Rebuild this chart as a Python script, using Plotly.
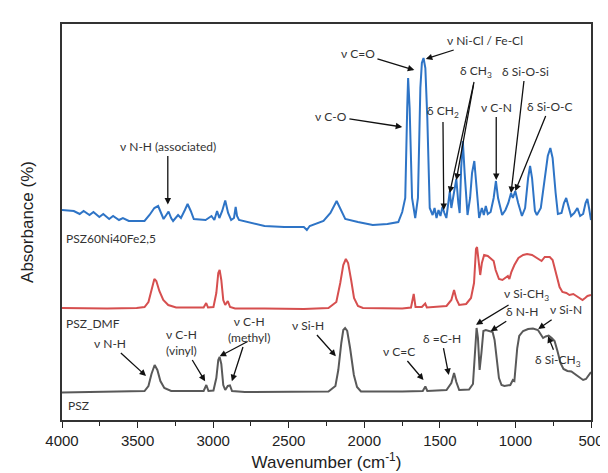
import plotly.graph_objects as go

# ---------------- data (absorbance in arbitrary offset units) ----------------
psz_fe_wn = [4000, 3922, 3883, 3857, 3818, 3792, 3753, 3727, 3688, 3662, 3623, 3597, 3558, 3506, 3454,
             3421, 3389, 3364, 3343, 3328, 3310, 3295, 3278, 3265, 3232, 3213, 3187, 3169, 3148, 3128,
             3050, 3011, 2992, 2974, 2959, 2940, 2920, 2901, 2881, 2862, 2851, 2842, 2829, 2751, 2660,
             2530, 2400, 2380, 2361, 2270, 2224, 2183, 2152, 2126, 2042, 1944, 1847, 1775, 1749, 1729,
             1716, 1710, 1700, 1684, 1663, 1645, 1629, 1619, 1608, 1596, 1583, 1567, 1548, 1535, 1522,
             1509, 1496, 1483, 1470, 1457, 1444, 1434, 1424, 1411, 1391, 1378, 1369, 1359, 1348, 1336,
             1317, 1300, 1287, 1272, 1258, 1240, 1222, 1209, 1196, 1183, 1164, 1144, 1129, 1115, 1088,
             1066, 1047, 1029, 1017, 1001, 982, 957, 936, 916, 903, 890, 871, 858, 832, 806,
             786, 769, 754, 734, 719, 695, 679, 664, 649, 632, 611, 590, 572, 552, 536,
             524, 513, 500]
psz_fe_abs = [2.10, 2.09, 2.06, 2.09, 2.05, 2.08, 2.03, 2.06, 2.01, 2.04, 2.00, 2.02, 1.99, 1.99, 1.99,
              2.05, 2.12, 2.14, 2.07, 2.01, 2.05, 2.085, 2.02, 1.99, 2.05, 2.02, 2.10, 2.16, 2.09, 2.01,
              2.00, 2.04, 2.00, 2.09, 2.02, 2.09, 2.195, 2.07, 2.00, 2.02, 2.13, 2.04, 2.00, 1.97, 1.94,
              1.93, 1.93, 1.90, 1.94, 1.99, 2.07, 2.19, 2.09, 2.01, 1.98, 1.95, 1.96, 1.98, 2.08, 2.22,
              3.12, 3.42, 3.12, 2.22, 2.02, 2.22, 3.32, 3.57, 3.62, 3.52, 3.02, 2.12, 2.05, 2.12, 2.02,
              2.10, 2.04, 2.13, 2.07, 2.02, 2.17, 2.29, 2.12, 2.22, 2.41, 2.17, 2.07, 2.52, 2.79, 2.47,
              2.05, 2.22, 2.47, 2.59, 2.37, 2.02, 2.12, 2.05, 2.14, 2.06, 2.08, 2.22, 2.39, 2.22, 2.05,
              2.10, 2.17, 2.27, 2.22, 2.29, 2.17, 2.04, 2.12, 2.42, 2.54, 2.42, 2.09, 2.05, 2.12, 2.42,
              2.64, 2.72, 2.62, 2.27, 2.06, 2.07, 2.17, 2.22, 2.12, 2.04, 2.07, 2.12, 2.04, 2.06, 2.17,
              2.21, 2.12, 2.00]

psz_dmf_wn = [4000, 3701, 3506, 3454, 3428, 3408, 3389, 3376, 3356, 3330, 3297, 3245, 3115, 3063, 3046,
              3034, 2998, 2979, 2966, 2957, 2946, 2933, 2920, 2903, 2888, 2855, 2660, 2400, 2237, 2185,
              2159, 2139, 2122, 2107, 2087, 2068, 2042, 2009, 1749, 1691, 1673, 1661, 1619, 1597, 1586,
              1456, 1424, 1406, 1391, 1372, 1326, 1294, 1274, 1261, 1254, 1245, 1233, 1222, 1207, 1183,
              1157, 1144, 1131, 1109, 1086, 1066, 1050, 1040, 1027, 1007, 980, 949, 923, 890, 860,
              827, 806, 773, 754, 730, 708, 689, 663, 643, 617, 597, 578, 556, 539, 523,
              500]
psz_dmf_abs = [1.12, 1.115, 1.12, 1.13, 1.18, 1.30, 1.41, 1.39, 1.29, 1.20, 1.15, 1.125, 1.12, 1.125, 1.17,
               1.125, 1.13, 1.27, 1.47, 1.50, 1.40, 1.20, 1.15, 1.19, 1.13, 1.115, 1.115, 1.11, 1.12, 1.18,
               1.37, 1.55, 1.61, 1.57, 1.40, 1.22, 1.14, 1.12, 1.115, 1.125, 1.26, 1.13, 1.13, 1.165, 1.125,
               1.14, 1.20, 1.30, 1.21, 1.15, 1.16, 1.22, 1.37, 1.71, 1.73, 1.62, 1.45, 1.57, 1.65, 1.64,
               1.61, 1.59, 1.50, 1.41, 1.40, 1.42, 1.44, 1.41, 1.48, 1.55, 1.62, 1.65, 1.66, 1.65, 1.62,
               1.59, 1.63, 1.63, 1.60, 1.46, 1.33, 1.28, 1.27, 1.25, 1.26, 1.24, 1.22, 1.20, 1.22, 1.24,
               1.25]

psz_wn = [4000, 3701, 3506, 3454, 3428, 3408, 3387, 3369, 3349, 3323, 3278, 3115, 3063, 3045, 3031,
          2998, 2979, 2966, 2957, 2946, 2933, 2920, 2903, 2889, 2875, 2790, 2400, 2237, 2191, 2172,
          2152, 2139, 2127, 2113, 2094, 2069, 2048, 2022, 1749, 1613, 1596, 1583, 1456, 1424, 1406,
          1391, 1372, 1307, 1281, 1264, 1257, 1248, 1237, 1225, 1212, 1196, 1170, 1151, 1138, 1125,
          1109, 1092, 1073, 1034, 1017, 1007, 1001, 988, 975, 949, 916, 884, 851, 833, 817,
          800, 780, 760, 741, 722, 702, 682, 656, 630, 605, 579, 552, 533, 513, 500]
psz_abs = [0.275, 0.28, 0.285, 0.29, 0.34, 0.46, 0.55, 0.50, 0.39, 0.32, 0.29, 0.285, 0.29, 0.35, 0.29,
           0.295, 0.42, 0.60, 0.63, 0.56, 0.35, 0.30, 0.34, 0.345, 0.29, 0.28, 0.28, 0.285, 0.34, 0.50,
           0.77, 0.90, 0.92, 0.89, 0.72, 0.45, 0.33, 0.285, 0.285, 0.29, 0.335, 0.29, 0.30, 0.37, 0.47,
           0.38, 0.30, 0.305, 0.36, 0.72, 0.92, 0.82, 0.50, 0.67, 0.89, 0.90, 0.89, 0.88, 0.80, 0.60,
           0.42, 0.35, 0.34, 0.35, 0.40, 0.39, 0.52, 0.72, 0.84, 0.89, 0.91, 0.915, 0.90, 0.86, 0.82,
           0.835, 0.845, 0.82, 0.79, 0.69, 0.57, 0.51, 0.49, 0.485, 0.46, 0.43, 0.40, 0.41, 0.46, 0.48]

series_names = ["PSZ60Ni40Fe2,5", "PSZ_DMF", "PSZ"]
x_ticks = [4000, 3500, 3000, 2500, 2000, 1500, 1000, 500]

# ---------------- figure ----------------
fig = go.Figure()
fig.add_trace(go.Scatter(x=psz_fe_wn, y=psz_fe_abs, mode="lines", name=series_names[0],
                         line=dict(color="#2E74C6", width=2)))
fig.add_trace(go.Scatter(x=psz_dmf_wn, y=psz_dmf_abs, mode="lines", name=series_names[1],
                         line=dict(color="#D64F4F", width=2)))
fig.add_trace(go.Scatter(x=psz_wn, y=psz_abs, mode="lines", name=series_names[2],
                         line=dict(color="#595959", width=2)))

lab_font = dict(family="Lato, 'Open Sans', sans-serif", size=12, color="#333333")
annotations = []


def label(text, x, y, xanchor="center"):
    annotations.append(dict(x=x, y=y, xref="x", yref="y", text=text, showarrow=False,
                            font=lab_font, xanchor=xanchor, yanchor="middle"))


def label_arrow(text, pos, tip):
    # text centred at pos, arrow from the text box edge to tip
    annotations.append(dict(x=tip[0], y=tip[1], ax=pos[0], ay=pos[1], xref="x", yref="y",
                            axref="x", ayref="y", text=text, showarrow=True, arrowhead=2,
                            arrowsize=1, arrowwidth=1.3, arrowcolor="#111111", standoff=0,
                            font=lab_font, borderpad=2))


def extra_arrow(tail, tip):
    annotations.append(dict(x=tip[0], y=tip[1], ax=tail[0], ay=tail[1], xref="x", yref="y",
                            axref="x", ayref="y", text="&nbsp;", showarrow=True, arrowhead=2,
                            arrowsize=1, arrowwidth=1.3, arrowcolor="#111111", standoff=0,
                            font=dict(size=2), borderpad=0))


# series labels
label(series_names[0], 3990, 1.82, "left")
label(series_names[1], 3985, 0.97, "left")
label(series_names[2], 3975, 0.15, "left")

# PSZ60Ni40Fe2,5 assignments
label_arrow("ν N-H (associated)", (3300, 2.74), (3300, 2.155))
label_arrow("ν C=O", (2042, 3.67), (1669, 3.50))
label_arrow("ν Ni-Cl / Fe-Cl", (1203, 3.80), (1593, 3.61))
label_arrow("ν C-O", (2221, 3.04), (1749, 2.93))
label_arrow("δ CH<sub>3</sub>", (1258, 3.49), (1435, 2.27))
extra_arrow((1275, 3.37), (1391, 2.40))
label_arrow("δ Si-O-Si", (936, 3.49), (1029, 2.27))
label_arrow("δ CH<sub>2</sub>", (1480, 3.09), (1474, 2.10))
label_arrow("ν C-N", (1127, 3.13), (1127, 2.40))
label_arrow("δ Si-O-C", (773, 3.14), (1001, 2.29))

# PSZ assignments
label_arrow("ν N-H", (3683, 0.77), (3444, 0.44))
label_arrow("ν C-H<br>(vinyl)", (3210, 0.78), (3053, 0.387))
label_arrow("ν C-H<br>(methyl)", (2764, 0.91), (2876, 0.387))
extra_arrow((2765, 0.79), (2957, 0.637))
label_arrow("ν Si-H", (2372, 0.95), (2188, 0.637))
label_arrow("ν C=C", (1771, 0.69), (1608, 0.40))
label_arrow("δ =C-H", (1489, 0.82), (1441, 0.45))
label_arrow("ν Si-CH<sub>3</sub>", (925, 1.26), (1261, 0.953))
label_arrow("δ N-H", (957, 1.087), (1164, 0.887))
label_arrow("ν Si-N", (665, 1.103), (849, 0.91))
label_arrow("δ Si-CH<sub>3</sub>", (719, 0.593), (784, 0.837))

axis_font = dict(family="Liberation Sans, Arial, sans-serif", size=17, color="#222222")

fig.update_layout(
    width=608, height=473,
    margin=dict(l=54, r=16, t=16, b=61),
    paper_bgcolor="white", plot_bgcolor="white",
    showlegend=False,
    annotations=annotations,
    xaxis=dict(range=[4000, 500], tickvals=x_ticks, ticktext=[str(v) for v in x_ticks],
               ticks="outside", ticklen=6, tickwidth=1.2, tickcolor="#222222",
               minor=dict(ticks="outside", ticklen=4, tickwidth=1.2, tickcolor="#222222", dtick=250,
                          tick0=500),
               showline=True, linecolor="#333333", linewidth=1.5, mirror=True, showgrid=False,
               zeroline=False,
               tickfont=dict(family="Liberation Sans, Arial, sans-serif", size=15, color="#222222"),
               title=dict(text="Wavenumber (cm<sup>-1</sup>)", standoff=8, font=axis_font)),
    yaxis=dict(range=[0, 3.96], showticklabels=False, ticks="", showgrid=False, zeroline=False,
               showline=True, linecolor="#333333", linewidth=1.5, mirror=True,
               title=dict(text="Absorbance (%)", standoff=22, font=axis_font)),
)

fig.write_html("out.html")
